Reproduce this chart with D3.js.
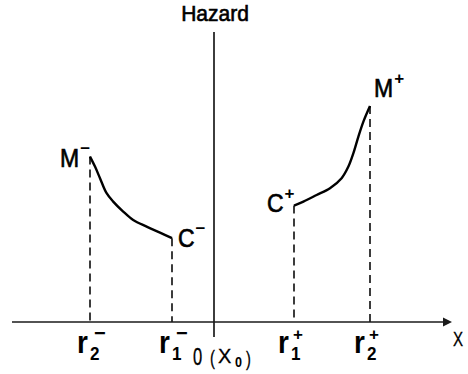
<!DOCTYPE html>
<html><head><meta charset="utf-8">
<script src="https://cdn.jsdelivr.net/npm/d3@7"></script>
<style>
body{margin:0;background:#fff}
svg{display:block}
text{font-family:"Liberation Sans",Arial,Helvetica,sans-serif;fill:#000}
</style>
</head><body>
<svg id="chart" width="468" height="374"></svg>
<script>
// Hazard on either side of the reference point x0 (schematic units)
const leftX  = [-6.2, -5.95, -5.7, -5.37, -5.04, -4.54, -4.04, -3.37, -2.7, -2.1];
const leftY  = [8.27, 7.77, 7.19, 6.44, 6.02, 5.52, 5.1, 4.77, 4.47, 4.19];
const rightX = [4.0, 4.47, 5.13, 5.8, 6.38, 6.72, 6.97, 7.22, 7.47, 7.8];
const rightY = [5.82, 6.02, 6.35, 6.69, 7.19, 7.77, 8.44, 9.27, 10.02, 10.8];

// thresholds on the x axis
const tickValues = [-6.2, -2.1, 4.0, 7.8];
const tickSubs   = ["2", "1", "1", "2"];
const tickSups   = ["\u2212", "\u2212", "+", "+"];

const svg = d3.select("#chart");
const x = d3.scaleLinear().domain([-10.1, 11.9]).range([12, 452]);
const y = d3.scaleLinear().domain([0, 14.5]).range([322, 32]);

const ink = "#1a1a1a";

// text placed by a transform so glyphs can be stretched a little
function label(px, py, str, size, o = {}) {
  const t = svg.append("text")
    .attr("transform", `translate(${px},${py}) scale(${o.sx || 1},${o.sy || 1})`)
    .attr("font-size", size)
    .attr("font-weight", o.bold ? "bold" : "normal")
    .attr("text-anchor", o.anchor || "start")
    .text(str);
  if (o.heavy) t.attr("stroke", "#000").attr("stroke-width", o.heavy);
  return t;
}

// horizontal axis with arrow head
svg.append("line")
  .attr("x1", x(-10.1)).attr("x2", x(11.9) - 6)
  .attr("y1", y(0)).attr("y2", y(0))
  .attr("stroke", ink).attr("stroke-width", 1.7);
svg.append("path")
  .attr("d", `M${x(11.9)},${y(0)} L${x(11.9) - 9},${y(0) - 4.5} L${x(11.9) - 9},${y(0) + 4.5} Z`)
  .attr("fill", ink);

// vertical hazard axis at x0
svg.append("line")
  .attr("x1", x(0)).attr("x2", x(0))
  .attr("y1", y(14.5)).attr("y2", y(-0.75))
  .attr("stroke", ink).attr("stroke-width", 1.7);

// dashed drop lines from curve ends to the axis
const ends = [
  [leftX[0], leftY[0]],
  [leftX[leftX.length - 1], leftY[leftY.length - 1]],
  [rightX[0], rightY[0]],
  [rightX[rightX.length - 1], rightY[rightY.length - 1]]
];
svg.selectAll("line.drop").data(ends).join("line")
  .attr("class", "drop")
  .attr("x1", d => x(d[0])).attr("x2", d => x(d[0]))
  .attr("y1", d => y(d[1])).attr("y2", y(0))
  .attr("stroke", ink).attr("stroke-width", 1.7)
  .attr("stroke-dasharray", "8,5");

// hazard curves
const line = d3.line().x(d => x(d[0])).y(d => y(d[1])).curve(d3.curveCatmullRom);
[[leftX, leftY], [rightX, rightY]].forEach(([xs, ys]) => {
  svg.append("path")
    .datum(xs.map((v, i) => [v, ys[i]]))
    .attr("d", line)
    .attr("fill", "none")
    .attr("stroke", "#000")
    .attr("stroke-width", 2.4)
    .attr("stroke-linejoin", "round");
});

// axis titles
label(x(0) + 1, 21, "Hazard", 21, { anchor: "middle", sy: 1.06, heavy: 0.6 });
label(453, 346, "X", 21, { sx: 0.72, heavy: 0.3 });

// origin label 0 (X0)
label(193, 365, "0", 23, { sx: 0.72, heavy: 0.3 });
label(210, 365, "(", 21, { sx: 0.7, heavy: 0.3 });
label(218, 363, "X", 21, { sx: 0.95, heavy: 0.3 });
label(235, 367, "0", 14, { sx: 0.9, bold: true });
label(246, 366, ")", 21, { sx: 0.7, heavy: 0.3 });

// threshold tick labels r with sub- and superscripts
tickValues.forEach((v, i) => {
  const plus = tickSups[i] === "+";
  const cx = x(v) - (plus ? 3 : 0);
  label(cx - 13, 353, "r", 28, { bold: true, sy: 1.12 });
  label(cx, 360, tickSubs[i], 18, { bold: true, sx: 0.95 });
  label(cx + (plus ? 2 : 4), 340, tickSups[i], plus ? 17 : 20, { bold: true });
});

// curve end labels
const pointLabels = [
  { p: ends[0], t: "M", s: "\u2212", dx: -30, dy: 10 },
  { p: ends[1], t: "C", s: "\u2212", dx: 6, dy: 9 },
  { p: ends[2], t: "C", s: "+", dx: -27, dy: 6 },
  { p: ends[3], t: "M", s: "+", dx: 4, dy: -9 }
];
pointLabels.forEach(l => {
  const px = x(l.p[0]) + l.dx, py = y(l.p[1]) + l.dy;
  const t = label(px, py, l.t, 23, { sy: 1.1, heavy: 0.6 });
  const w = t.node().getComputedTextLength();
  label(px + w + 1, py - 13, l.s, 17, { bold: true });
});
</script>
</body></html>
